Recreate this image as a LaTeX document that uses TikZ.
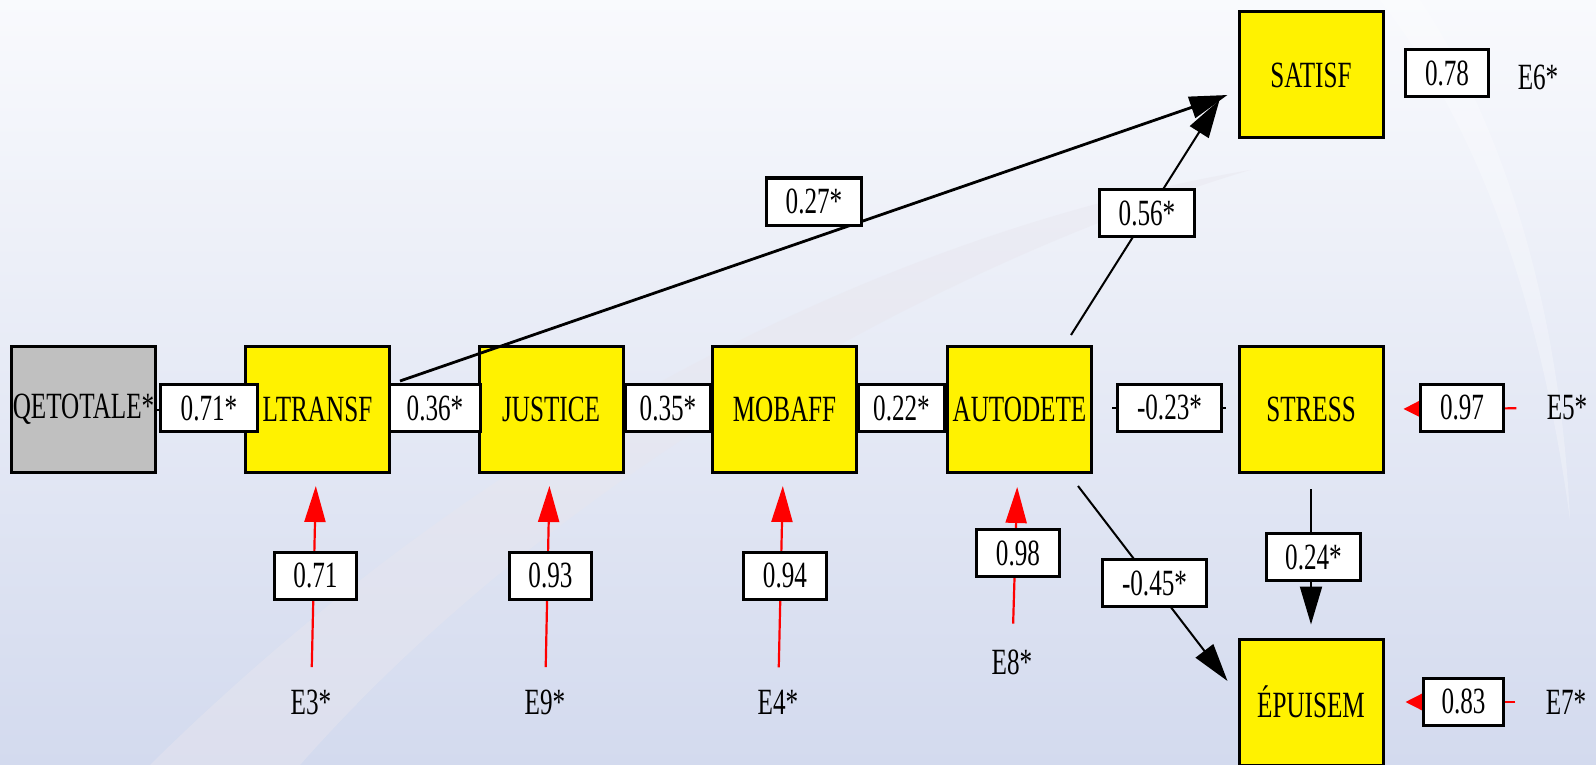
\documentclass[tikz,border=0pt]{standalone}
\usepackage{fontspec}
\setmainfont{Liberation Serif}[FakeStretch=0.68]
\usetikzlibrary{arrows.meta}
\definecolor{bgtop}{RGB}{249,250,253}
\definecolor{bgbot}{RGB}{211,218,238}
\definecolor{swoosh}{RGB}{232,230,238}
\definecolor{redline}{RGB}{255,0,0}
\definecolor{grayfill}{RGB}{192,192,192}
\begin{document}
\begin{tikzpicture}[x=0.5pt,y=-0.5pt,
  font=\fontsize{18.5}{20}\selectfont,
  var/.style={draw=black, line width=1.5pt, fill=yellow, minimum width=72pt, minimum height=63pt, inner sep=0pt},
  coef/.style={draw=black, line width=1.5pt, fill=white, minimum height=23.5pt, inner sep=0pt},
  err/.style={inner sep=0pt},
  blk/.style={draw=black, line width=1pt, -{Triangle[length=19pt,width=11pt]}},
  redarr/.style={draw=redline, line width=1.1pt, -{Triangle[length=18pt,width=10.5pt]}},
  redside/.style={draw=redline, line width=1.1pt, -{Triangle[length=14pt,width=14pt]}},
  ]
\useasboundingbox (0,0) rectangle (1596,765);
% background
\fill[top color=bgtop, bottom color=bgbot] (0,0) rectangle (1596,765);
\fill[swoosh, opacity=0.45] (150,765) .. controls (500,420) and (900,230) .. (1250,170)
  .. controls (950,260) and (560,470) .. (300,765) -- cycle;
\fill[white, opacity=0.25] (1420,0) .. controls (1500,120) and (1560,300) .. (1570,520)
  .. controls (1540,300) and (1480,130) .. (1380,0) -- cycle;

% variables
\node[var, fill=grayfill] (qet) at (83.5,409.5) {QETOTALE*};
\node[var] (ltransf) at (317.5,409.5) {LTRANSF};
\node[var] (justice) at (551,409.5) {JUSTICE};
\node[var] (mobaff) at (784.5,409.5) {MOBAFF};
\node[var] (autodete) at (1019.5,409.5) {AUTODETE};
\node[var] (stress) at (1311,409.5) {STRESS};
\node[var] (satisf) at (1311,75) {SATISF};
\node[var] (epuisem) at (1311,702) {ÉPUISEM};

% error terms
\node[err] (e3) at (311,702) {E3*};
\node[err] (e9) at (545,702) {E9*};
\node[err] (e4) at (778,702) {E4*};
\node[err] (e8) at (1012,662) {E8*};
\node[err] (e5) at (1567,408) {E5*};
\node[err] (e6) at (1538,77) {E6*};
\node[err] (e7) at (1566,702) {E7*};

% structural paths
\draw[blk] (qet) -- (ltransf);
\draw[blk] (ltransf) -- (justice);
\draw[blk] (justice) -- (mobaff);
\draw[blk] (mobaff) -- (autodete);
\draw[draw=black, line width=1pt] ([xshift=9.5pt,yshift=0.75pt]autodete.east) -- ([xshift=-6pt,yshift=0.75pt]stress.west);
\draw[blk, line width=1.4pt] ([xshift=4.5pt,yshift=14.25pt]ltransf.east) -- ([xshift=-5pt,yshift=-10pt]satisf.west);
\draw[blk] ([xshift=-11pt,yshift=5pt]autodete.north east) -- ([xshift=-9pt,yshift=-12.5pt]satisf.west);
\draw[blk] ([xshift=-7.5pt,yshift=-6pt]autodete.south east) -- ([xshift=-5pt,yshift=10.5pt]epuisem.west);
\draw[blk, shorten <=7.5pt, shorten >=6.5pt] (stress) -- (epuisem);

% disturbances
\draw[redarr, shorten <=11pt, shorten >=6pt] (e3) -- (ltransf);
\draw[redarr, shorten <=11pt, shorten >=6pt] (e9) -- (justice);
\draw[redarr, shorten <=11pt, shorten >=6pt] (e4) -- (mobaff);
\draw[redarr, shorten <=12.8pt, shorten >=6.5pt] (e8) -- (autodete);
\draw[redside, shorten <=15pt, shorten >=9.5pt] (e5) -- (stress);
\draw[redside, shorten <=15pt, shorten >=10.5pt] (e7) -- (epuisem);

% coefficient labels
\node[coef, minimum width=48.5pt] (c1) at (209,408) {0.71*};
\node[coef, minimum width=45.5pt] (c2) at (435,408) {0.36*};
\node[coef, minimum width=42.5pt] (c3) at (668,408) {0.35*};
\node[coef, minimum width=43pt] (c4) at (901.5,408) {0.22*};
\node[coef, minimum width=52pt] (c5) at (1169.5,407.5) {-0.23*};
\node[coef, minimum width=41.5pt] (c6) at (1462,407.5) {0.97};
\node[coef, minimum width=41.5pt] (c7) at (1447,73) {0.78};
\node[coef, minimum width=40pt] (c8) at (1463.5,701.5) {0.83};
\node[coef, minimum width=47pt] (c9) at (1313.5,557) {0.24*};
\node[coef, minimum width=52pt] (c10) at (1154.5,583) {-0.45*};
\node[coef, minimum width=47.5pt] (c11) at (1147,213) {0.56*};
\node[coef, minimum width=47.5pt] (c12) at (814,201.5) {0.27*};
\node[coef, minimum width=41pt] (c13) at (315.5,575.5) {0.71};
\node[coef, minimum width=41pt] (c14) at (550.5,575.5) {0.93};
\node[coef, minimum width=41.5pt] (c15) at (785,575.5) {0.94};
\node[coef, minimum width=41.5pt] (c16) at (1018,553) {0.98};
\end{tikzpicture}
\end{document}
